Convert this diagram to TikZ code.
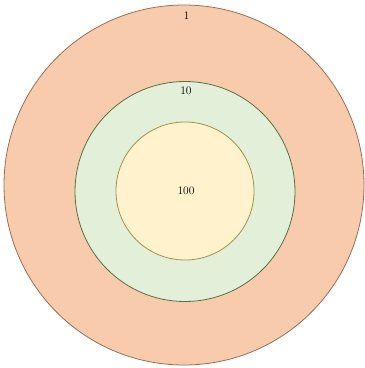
\documentclass[tikz,border=0pt]{standalone}
\usepackage{tikz}
\definecolor{ringOneFill}{HTML}{F8CBAD}
\definecolor{ringOneLine}{HTML}{9C6E55}
\definecolor{ringTenFill}{HTML}{E2EFD9}
\definecolor{ringTenLine}{HTML}{56733F}
\definecolor{ringHundredFill}{HTML}{FFF2CC}
\definecolor{ringHundredLine}{HTML}{A89042}
\begin{document}
\begin{tikzpicture}[x=1pt, y=-1pt]
% Target rings exported as pixel coordinates
\providecommand{\ringLineWidth}{0.8pt}
\providecommand{\ringFontSize}{\fontsize{11.5}{13}\selectfont}
\useasboundingbox (0,0) rectangle (365,368);
\begin{scope}[line width=\ringLineWidth, every node/.style={font=\ringFontSize, inner sep=0pt}]
  % Outer ring
  \draw[fill=ringOneFill, draw=ringOneLine] (184,185) circle[radius=180];
  % Middle ring
  \draw[fill=ringTenFill, draw=ringTenLine] (185,191.5) circle[radius=110];
  % Inner ring
  \draw[fill=ringHundredFill, draw=ringHundredLine] (185,191) circle[radius=69];
  % Labels
  \node (one) at (186.5,16) {1};
  \node (ten) at (186,91) {10};
  \node (hundred) at (186,191) {100};
\end{scope}
\end{tikzpicture}
\end{document}
